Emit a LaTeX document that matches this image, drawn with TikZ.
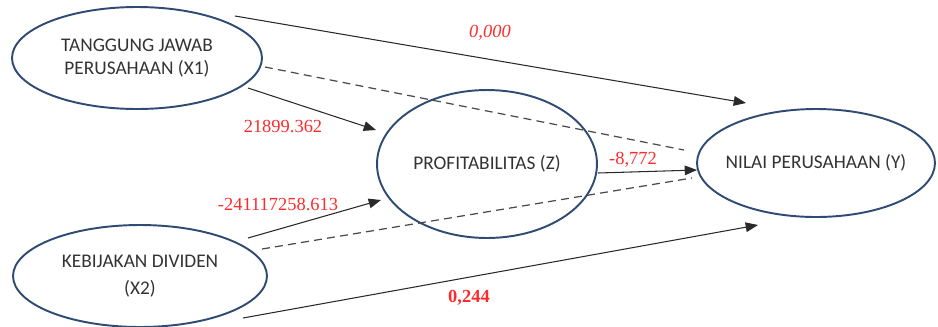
\documentclass[tikz,border=0pt]{standalone}
\usepackage{fontspec}
\setmainfont{Carlito}
\newfontfamily\coeffont{Liberation Serif}
\usetikzlibrary{shapes.geometric,arrows.meta}
\definecolor{rim}{HTML}{2F4B73}
\definecolor{coefred}{HTML}{FF2B2B}
\definecolor{wire}{HTML}{2A2A2A}
\definecolor{lbl}{HTML}{333333}

\begin{document}
\begin{tikzpicture}[x=0.02cm,y=-0.02cm,
    var/.style={ellipse,draw=rim,line width=1.1pt,text=lbl,align=center,
      inner xsep=-10pt,inner ysep=0pt,font=\fontsize{11}{13}\selectfont},
    effect/.style={draw=wire,line width=0.6pt,-{Triangle[length=7pt,width=5.5pt]}},
    indirect/.style={draw=wire!85,line width=0.7pt,dash pattern=on 4.5pt off 3pt},
    coef/.style={text=coefred,font=\coeffont\fontsize{10.5}{12}\selectfont}]
  \useasboundingbox (0,0) rectangle (938,326);

  % variables
  \node[var,minimum width=5cm,minimum height=2.04cm] (x1) at (137,58)
    {TANGGUNG JAWAB\\PERUSAHAAN (X1)};
  \node[var,minimum width=5.08cm,minimum height=2.04cm] (x2) at (140,276)
    {KEBIJAKAN DIVIDEN\\[2pt](X2)};
  \node[var,minimum width=4.4cm,minimum height=2.96cm] (z) at (487,164)
    {PROFITABILITAS (Z)};
  \node[var,minimum width=4.76cm,minimum height=2.16cm] (y) at (816,163)
    {NILAI PERUSAHAAN (Y)};

  % line ends (name / x / y)
  \foreach \n/\px/\py in {
     x1top/235/16,   yin1/746/103,
     x1mid/265/67,   ydash1/684/150,
     x1low/248/88,   zin1/376/130,
     x2up/248/238,   zin2/381/200,
     x2mid/262/249,  ydash2/692/178,
     zout/598/173,   yin2/697/170,
     x2low/243/318,  yin3/758/225}{
       \coordinate (\n) at (\px,\py);
  }

  % paths
  \draw[effect] (x1top) -- (yin1);
  \draw[effect] (x1low) -- (zin1);
  \draw[effect] (x2up) -- (zin2);
  \draw[effect] (zout) -- (yin2);
  \draw[effect] (x2low) -- (yin3);
  \draw[indirect] (x1mid) -- (ydash1);
  \draw[indirect] (x2mid) -- (ydash2);

  % coefficients
  \foreach \i/\val/\px/\py in {
     1/{\itshape 0,000}/490/33,
     2/{21899.362}/283/126,
     3/{-241117258.613}/278/204,
     4/{-8,772}/633/160,
     5/{\bfseries 0,244}/469/298}{
       \node[coef] (c\i) at (\px,\py) {\val};
  }
\end{tikzpicture}
\end{document}
